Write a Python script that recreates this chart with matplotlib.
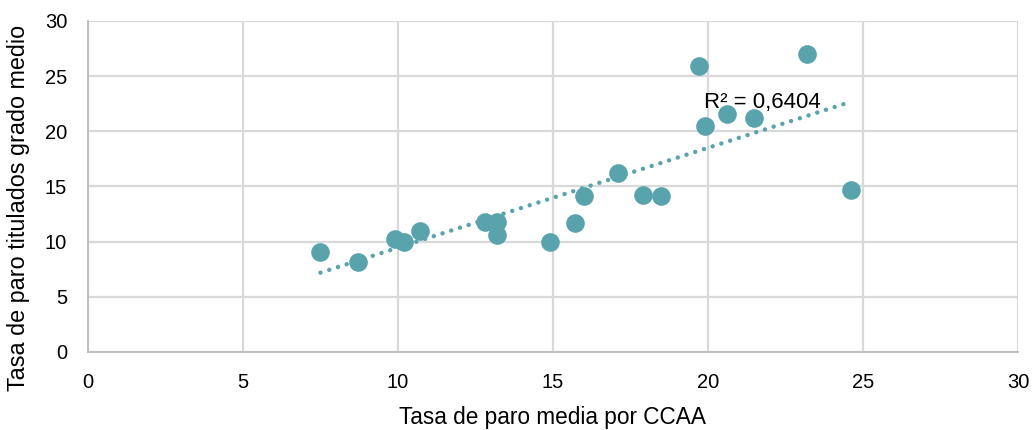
import numpy as np
import matplotlib.pyplot as plt

plt.rcParams["font.family"] = ["Liberation Sans", "DejaVu Sans"]

# Data
tasa_media = [7.5, 8.7, 9.9, 10.2, 10.7, 12.8, 13.2, 13.2, 14.9, 15.7,
              16.0, 17.1, 17.9, 18.5, 19.7, 19.9, 20.6, 21.5, 23.2, 24.6]
tasa_titulados = [9.1, 8.2, 10.2, 10.0, 11.0, 11.8, 11.8, 10.6, 10.0, 11.7,
                  14.1, 16.2, 14.2, 14.1, 25.9, 20.5, 21.6, 21.2, 27.0, 14.7]
r2_label = "R² = 0,6404"

color = "#59A3AC"
grid_color = "#D9D9D9"

fig = plt.figure(figsize=(10.34, 4.3), dpi=100)
ax = fig.add_axes([0.0851, 0.1814, 0.8994, 0.7698])

ax.scatter(tasa_media, tasa_titulados, s=180, color=color, zorder=3, linewidths=0)

# Linear trendline
coef = np.polyfit(tasa_media, tasa_titulados, 1)
xs = np.array([min(tasa_media), 24.5])
ax.plot(xs, np.polyval(coef, xs), color=color, linewidth=3.2,
        linestyle=(0, (0.01, 2.05)), dash_capstyle="round", zorder=4)
ax.text(21.77, 22.6, r2_label, fontsize=16, ha="center", va="center", zorder=5)

ax.set_xlim(0, 30)
ax.set_ylim(0, 30)
ax.set_xticks(range(0, 31, 5))
ax.set_yticks(range(0, 31, 5))
ax.grid(color=grid_color, linewidth=1.6, zorder=0)
ax.set_axisbelow(True)
for side in ["top", "right"]:
    ax.spines[side].set_visible(False)
for side in ["left", "bottom"]:
    ax.spines[side].set_color("#BFBFBF")
    ax.spines[side].set_linewidth(1.4)
ax.tick_params(length=0, labelsize=14.5, pad=15)

ax.set_xlabel("Tasa de paro media por CCAA", fontsize=16.3, labelpad=10)
ax.set_ylabel("Tasa de paro titulados grado medio", fontsize=16.8)
ax.yaxis.set_label_coords(-0.062, 0.435)

fig.savefig("out.png", dpi=100)
